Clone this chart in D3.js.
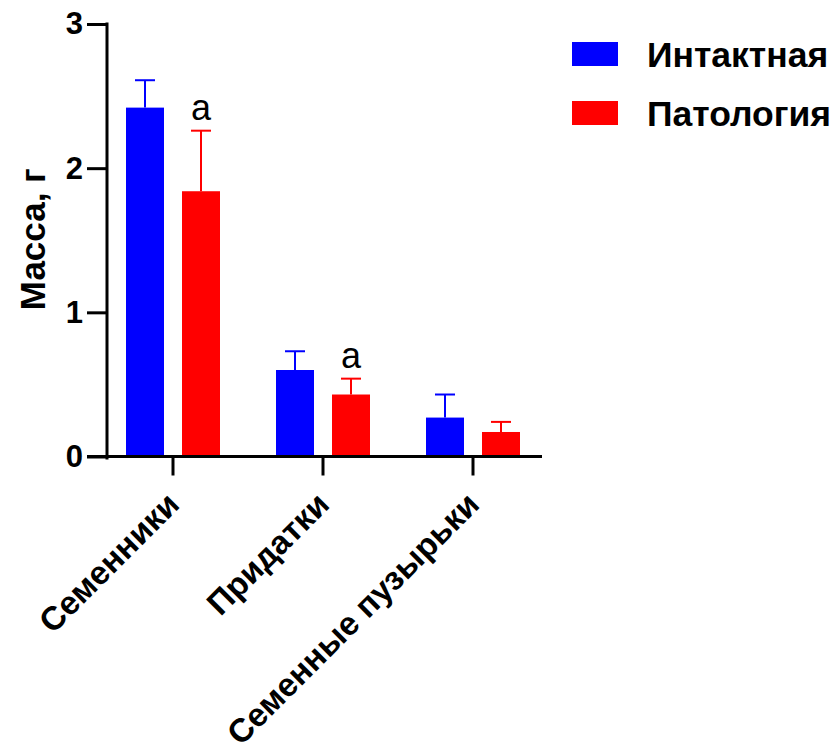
<!DOCTYPE html>
<html>
<head>
<meta charset="utf-8">
<script src="https://cdn.jsdelivr.net/npm/d3@7"></script>
<style>
  html, body { margin: 0; padding: 0; background: #fff; }
  svg { display: block; font-family: Arial, "Liberation Sans", sans-serif; }
</style>
</head>
<body>
<svg id="chart" width="836" height="743"></svg>
<script>
// Organ masses (g), mean and upper error (SD)
const categories = ["Семенники", "Придатки", "Семенные пузырьки"];
const seriesNames = ["Интактная", "Патология"];
const seriesColors = ["#0000ff", "#ff0000"];
const intactMean = [2.42, 0.60, 0.27];
const intactErr = [0.19, 0.13, 0.16];
const pathologyMean = [1.84, 0.43, 0.17];
const pathologyErr = [0.42, 0.11, 0.07];
// significance marks above the pathology bars
const pathologyMarks = ["a", "a", ""];
const yTicks = [0, 1, 2, 3];
const yTitle = "Масса, г";

const svg = d3.select("#chart");

const y = d3.scaleLinear().domain([0, 3]).range([456.5, 24]);
const x = d3.scaleBand().domain(categories).range([98, 548]).padding(0);
const xs = d3.scalePoint().domain(seriesNames).range([-28, 28]);
const color = d3.scaleOrdinal().domain(seriesNames).range(seriesColors);
const barW = 38;

const rows = [];
categories.forEach((c, i) => {
  rows.push({ cat: c, s: seriesNames[0], v: intactMean[i], e: intactErr[i], mark: "" });
  rows.push({ cat: c, s: seriesNames[1], v: pathologyMean[i], e: pathologyErr[i], mark: pathologyMarks[i] });
});
const cx = d => x(d.cat) + x.bandwidth() / 2 + xs(d.s);

// error bars (drawn first so the bar covers the lower stem)
const eb = svg.append("g");
eb.selectAll("line.stem").data(rows).join("line")
  .attr("x1", cx).attr("x2", cx)
  .attr("y1", d => y(d.v)).attr("y2", d => y(d.v + d.e))
  .attr("stroke", d => color(d.s)).attr("stroke-width", 2);
eb.selectAll("line.cap").data(rows).join("line")
  .attr("x1", d => cx(d) - 10).attr("x2", d => cx(d) + 10)
  .attr("y1", d => y(d.v + d.e)).attr("y2", d => y(d.v + d.e))
  .attr("stroke", d => color(d.s)).attr("stroke-width", 2);

// bars
svg.append("g").selectAll("rect").data(rows).join("rect")
  .attr("x", d => cx(d) - barW / 2)
  .attr("width", barW)
  .attr("y", d => y(d.v))
  .attr("height", d => y(0) - y(d.v))
  .attr("fill", d => color(d.s));

// significance letters
svg.append("g").selectAll("text").data(rows.filter(d => d.mark)).join("text")
  .attr("x", cx)
  .attr("y", d => y(d.v + d.e) - 11)
  .attr("text-anchor", "middle")
  .attr("font-size", 36)
  .attr("fill", "#000")
  .text(d => d.mark);

// y axis
const yAxis = svg.append("g").attr("transform", "translate(107,0)")
  .call(d3.axisLeft(y).tickValues(yTicks).tickFormat(d3.format("d")).tickSize(20).tickSizeOuter(0).tickPadding(4));
yAxis.select(".domain").remove();
yAxis.append("line").attr("x1", 0).attr("x2", 0).attr("y1", y(3) - 1.5).attr("y2", y(0) + 3)
  .attr("stroke", "#000").attr("stroke-width", 3);
yAxis.selectAll(".tick line").attr("stroke", "#000").attr("stroke-width", 3);
yAxis.selectAll(".tick text").attr("font-size", 31).attr("font-weight", "bold").attr("fill", "#000")
  .attr("font-family", "Arial, 'Liberation Sans', sans-serif");

// x axis
const xAxis = svg.append("g").attr("transform", `translate(0,${y(0)})`)
  .call(d3.axisBottom(x).tickSize(19).tickSizeOuter(0).tickFormat(""));
xAxis.select(".domain").remove();
xAxis.append("line").attr("x1", 87).attr("x2", 542).attr("y1", 0).attr("y2", 0)
  .attr("stroke", "#000").attr("stroke-width", 3);
xAxis.selectAll(".tick line").attr("stroke", "#000").attr("stroke-width", 3);

// rotated category labels
svg.append("g").selectAll("text").data(categories).join("text")
  .attr("transform", d => `translate(${x(d) + x.bandwidth() / 2 + 8},${y(0) + 50}) rotate(-45)`)
  .attr("text-anchor", "end")
  .attr("font-size", 33)
  .attr("font-weight", "bold")
  .attr("fill", "#000")
  .text(d => d);

// y title
svg.append("text")
  .attr("transform", `translate(45,${(y(0) + y(3)) / 2 - 1}) rotate(-90)`)
  .attr("text-anchor", "middle")
  .attr("font-size", 35)
  .attr("font-weight", "bold")
  .attr("fill", "#000")
  .text(yTitle);

// legend
const legend = svg.append("g").attr("transform", "translate(572,42)");
const li = legend.selectAll("g").data(seriesNames).join("g")
  .attr("transform", (d, i) => `translate(0,${i * 59})`);
li.append("rect").attr("width", 46).attr("height", 24).attr("fill", d => color(d));
li.append("text").attr("x", 75).attr("y", 12).attr("dy", "0.36em")
  .attr("font-size", 35.5).attr("font-weight", "bold").attr("fill", "#000")
  .text(d => d);
</script>
</body>
</html>
